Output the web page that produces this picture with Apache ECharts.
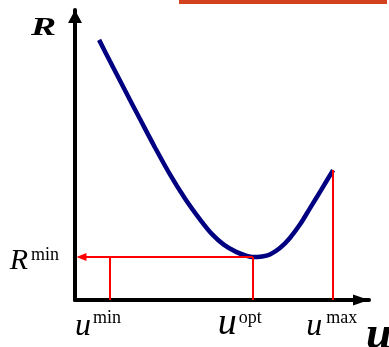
<!DOCTYPE html>
<html>
<head>
<meta charset="utf-8">
<script src="https://cdn.jsdelivr.net/npm/echarts@6/dist/echarts.min.js"></script>
<style>
  html, body { margin: 0; padding: 0; background: #ffffff; }
  #chart { width: 389px; height: 347px; }
</style>
</head>
<body>
<div id="chart"></div>
<script>
// Cost curve R(u): control value u on the horizontal axis, cost R on the vertical axis
const uValues = [8.2, 11.9, 17.0, 22.1, 27.2, 32.3, 37.4, 42.5, 46.6, 50.7, 54.8, 58.2, 60.5, 63.6, 66.3, 69.7, 73.1, 76.5, 79.9, 83.7, 87.8];
const rValues = [89.7, 82.3, 72.3, 62.4, 52.6, 43.3, 35.0, 27.8, 22.7, 19.0, 16.6, 15.3, 14.8, 15.0, 15.7, 17.9, 21.4, 26.0, 31.6, 37.9, 44.8];

// Marked control values and their superscripts
const uMarks = [11.9, 60.5, 87.8];
const uMarkNames = ['min', 'opt', 'max'];
// Cost at the optimum and at the upper bound
const rMin = 14.8;
const rMarkName = 'min';
const rAtMax = 44.8;

const SERIF = '"Liberation Serif", "Times New Roman", serif';
const curve = uValues.map((u, i) => [u, rValues[i]]);

const chart = echarts.init(document.getElementById('chart'), null, { renderer: 'canvas' });

chart.setOption({
  animation: false,
  backgroundColor: '#ffffff',
  grid: { left: 75, right: 20, top: 10, bottom: 47, containLabel: false, outerBoundsMode: 'none' },
  graphic: [
    { type: 'rect', left: 179, top: 0, shape: { width: 208, height: 4 }, style: { fill: '#d2421f' } },
    // title of the vertical axis, set in a wide bold italic face
    {
      type: 'text', x: 31, y: 15, scaleX: 1.45, originX: 0, originY: 0,
      style: { text: 'R', font: 'italic bold 26px "Liberation Serif", serif', fill: '#000', textVerticalAlign: 'top' }
    }
  ],
  xAxis: {
    type: 'value', min: 0, max: 100,
    name: 'u', nameLocation: 'end', nameGap: -3,
    nameTextStyle: {
      fontFamily: SERIF, fontStyle: 'italic', fontWeight: 'bold', fontSize: 46,
      align: 'left', verticalAlign: 'top', padding: [13, 0, 0, 0], color: '#000'
    },
    splitLine: { show: false },
    axisTick: { show: false },
    axisLine: {
      show: true, onZero: false,
      lineStyle: { color: '#000', width: 4 },
      symbol: ['none', 'triangle'], symbolSize: [11, 16], symbolOffset: [0, -8]
    },
    axisLabel: {
      customValues: uMarks, margin: 9, color: '#000',
      formatter: function (v) {
        const k = uMarks.indexOf(v);
        return '{u' + k + '|u}{s' + k + '|' + uMarkNames[k] + '}';
      },
      rich: {
        u0: { fontFamily: SERIF, fontStyle: 'italic', fontSize: 32, lineHeight: 34, verticalAlign: 'bottom' },
        s0: { fontFamily: SERIF, fontSize: 18, lineHeight: 18, verticalAlign: 'top', padding: [0, 24, 0, 2] },
        u1: { fontFamily: SERIF, fontStyle: 'italic', fontSize: 38, lineHeight: 34, verticalAlign: 'bottom' },
        s1: { fontFamily: SERIF, fontSize: 18, lineHeight: 18, verticalAlign: 'top', padding: [0, 26, 0, 2] },
        u2: { fontFamily: SERIF, fontStyle: 'italic', fontSize: 32, lineHeight: 34, verticalAlign: 'bottom' },
        s2: { fontFamily: SERIF, fontSize: 18, lineHeight: 18, verticalAlign: 'top', padding: [0, 3, 0, 4] }
      }
    }
  },
  yAxis: {
    type: 'value', min: 0, max: 100,
    splitLine: { show: false },
    axisTick: { show: false },
    axisLine: {
      show: true, onZero: false,
      lineStyle: { color: '#000', width: 4 },
      symbol: ['none', 'triangle'], symbolSize: [14, 13], symbolOffset: [0, -6.5]
    },
    axisLabel: {
      customValues: [rMin], margin: 16, color: '#000', padding: [8, 0, 0, 0],
      formatter: function () { return '{r|R}{s|' + rMarkName + '}'; },
      rich: {
        r: { fontFamily: SERIF, fontStyle: 'italic', fontSize: 30, lineHeight: 30, verticalAlign: 'bottom' },
        s: { fontFamily: SERIF, fontSize: 18, lineHeight: 18, verticalAlign: 'top', padding: [0, 0, 0, 3] }
      }
    }
  },
  series: [
    {
      name: 'R(u)', type: 'line', data: curve, smooth: 0.35,
      showSymbol: false, z: 2,
      lineStyle: { color: '#000080', width: 4.5 }
    },
    {
      // vertical guides from the axis up to the curve
      type: 'line', data: [], z: 3,
      markLine: {
        silent: true, symbol: 'none', animation: false,
        label: { show: false },
        lineStyle: { color: '#ff0000', width: 2, type: 'solid' },
        data: [
          [{ coord: [uMarks[0], 0] }, { coord: [uMarks[0], rMin] }],
          [{ coord: [uMarks[1], 0] }, { coord: [uMarks[1], rMin] }],
          [{ coord: [uMarks[2], 0] }, { coord: [uMarks[2], rAtMax] }]
        ]
      }
    },
    {
      // arrow from the optimum across to the R axis (stops short so the tip meets the axis)
      type: 'line', data: [], z: 3,
      markLine: {
        silent: true, symbol: ['none', 'triangle'], symbolSize: [8, 10], animation: false,
        label: { show: false },
        lineStyle: { color: '#ff0000', width: 2, type: 'solid' },
        itemStyle: { color: '#ff0000' },
        data: [
          [{ coord: [uMarks[1], rMin] }, { coord: [2.2, rMin] }]
        ]
      }
    }
  ]
});
</script>
</body>
</html>
